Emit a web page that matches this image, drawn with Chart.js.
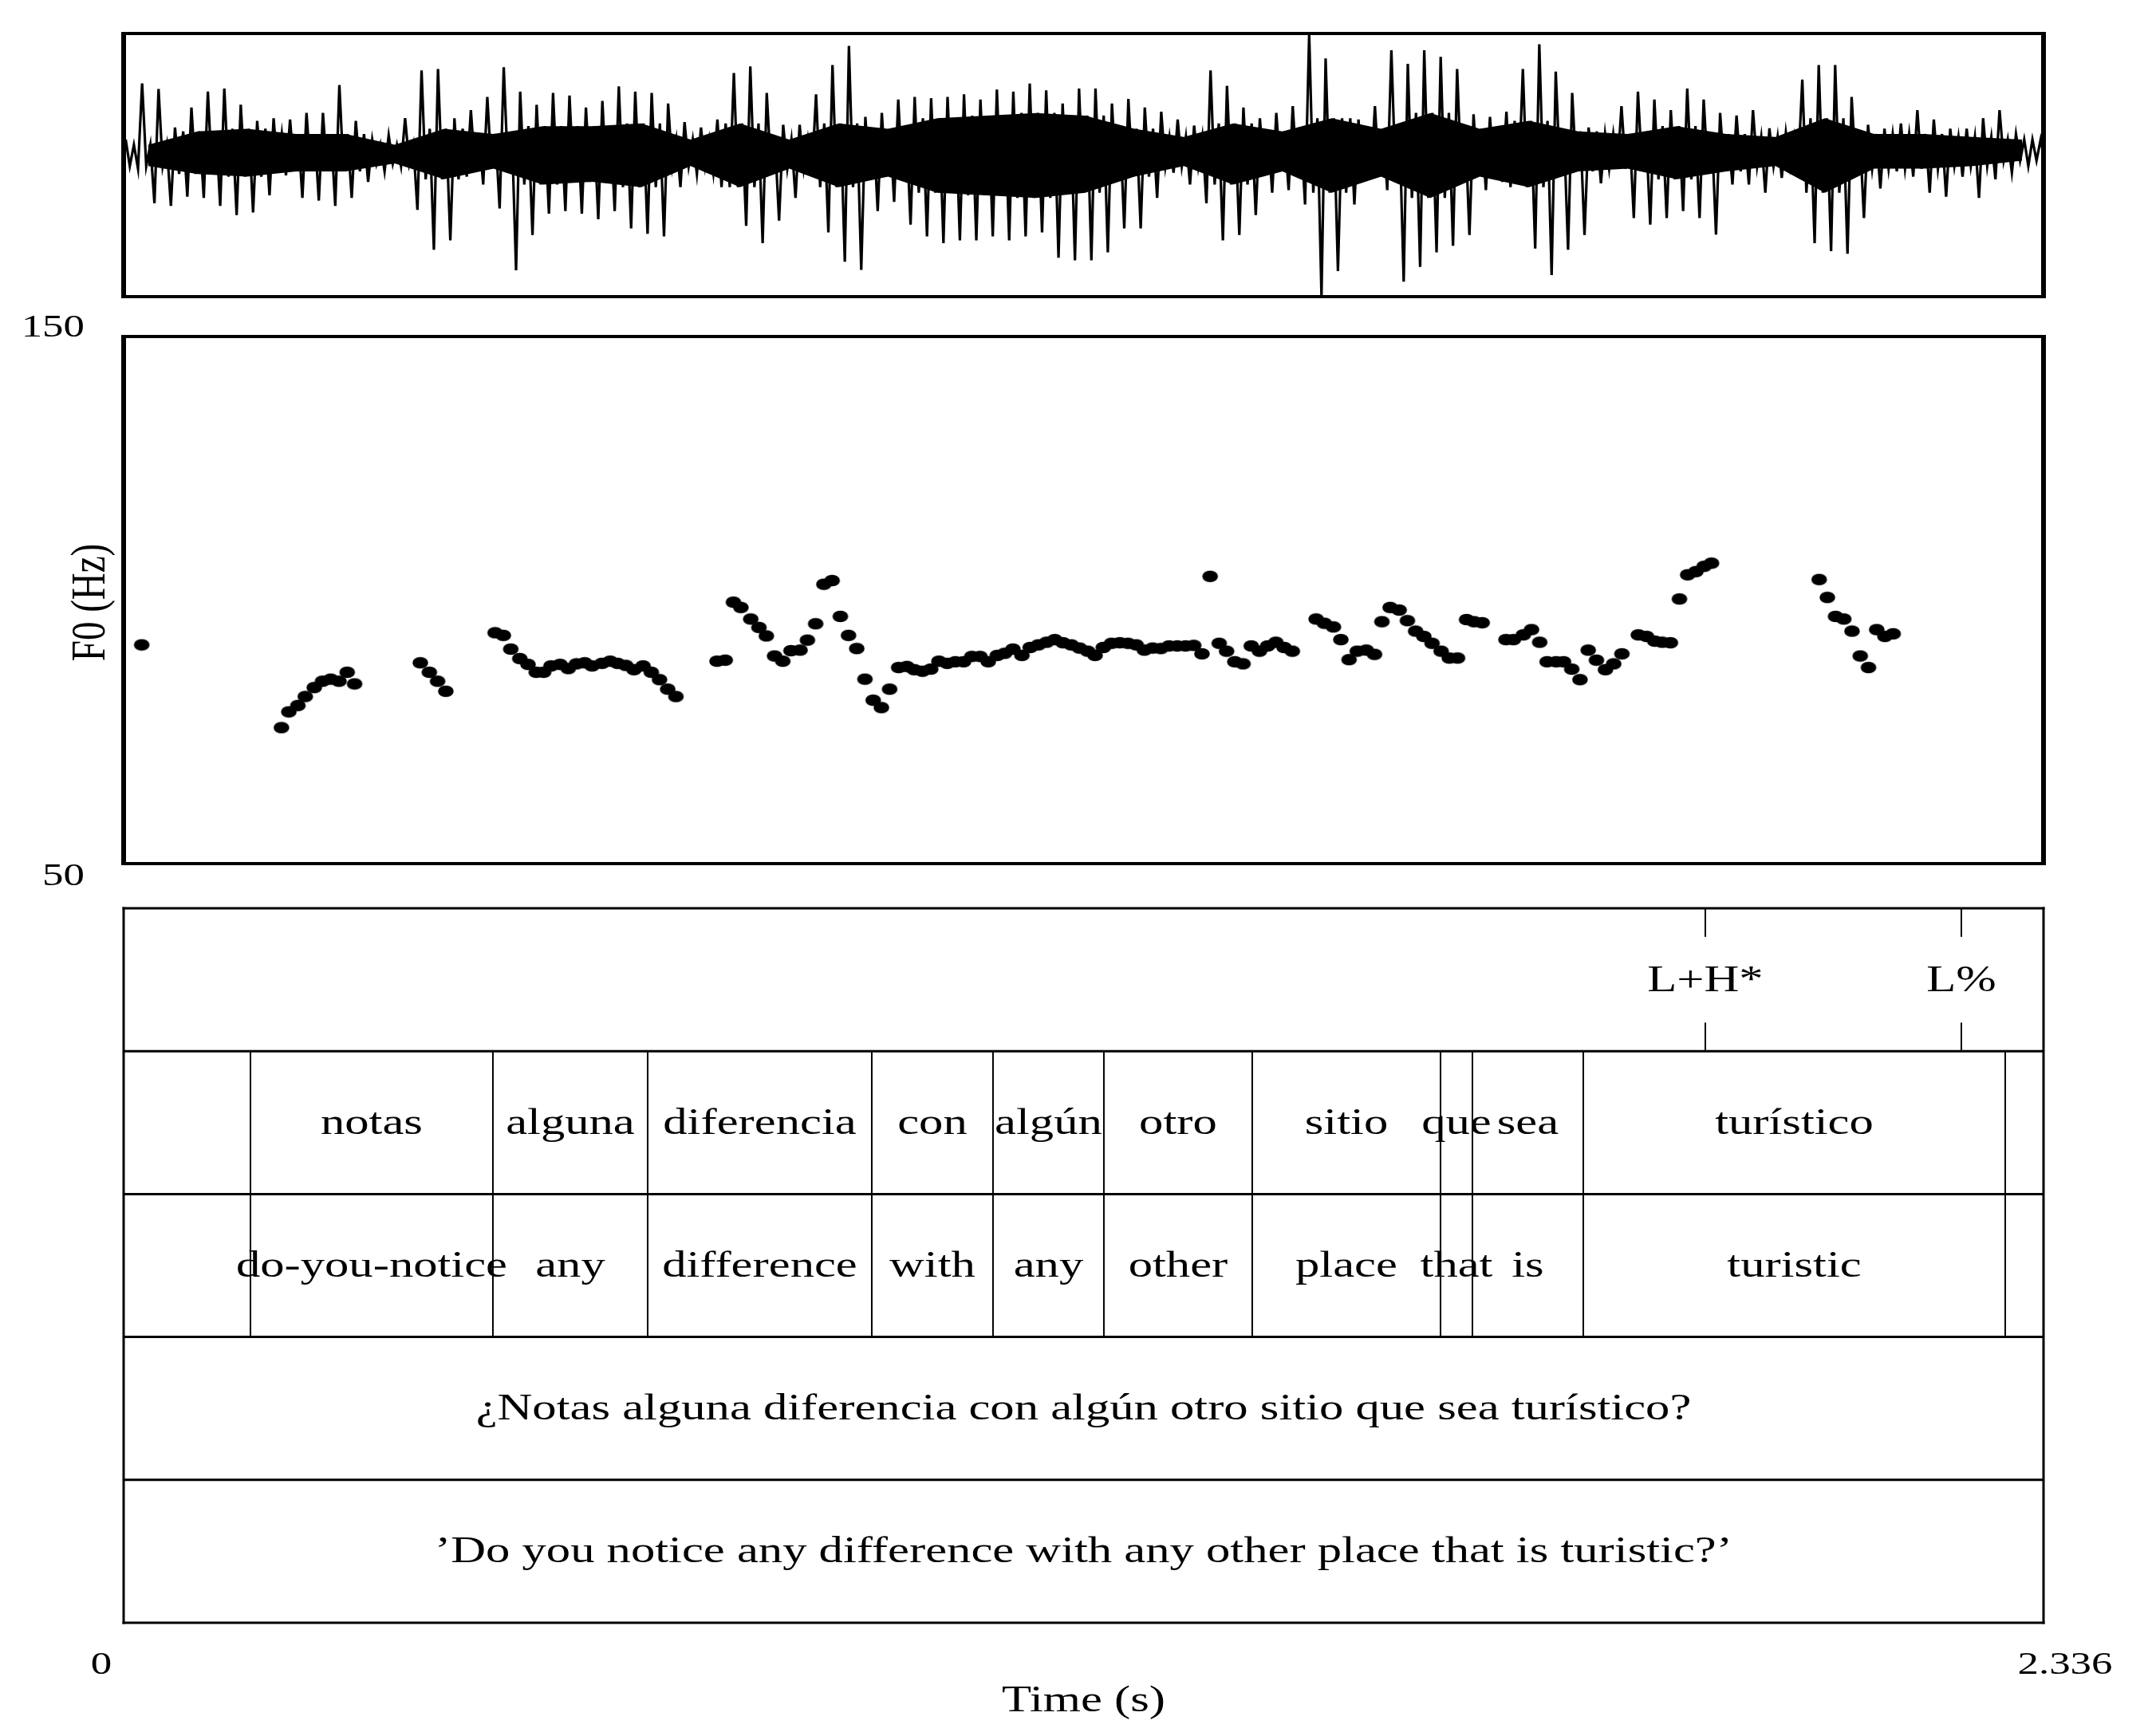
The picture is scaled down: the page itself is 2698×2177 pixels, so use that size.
<!DOCTYPE html>
<html><head><meta charset="utf-8">
<script src="https://cdn.jsdelivr.net/npm/chart.js@4.4.1/dist/chart.umd.min.js"></script>
<style>
html,body{margin:0;padding:0;background:#fff;}
#wrap{position:relative;width:2698px;height:2177px;background:#fff;overflow:hidden;}
canvas{position:absolute;left:0;top:0;}
</style></head><body>
<div id="wrap">
<canvas id="cw" width="2698" height="2177"></canvas>
<canvas id="cf" width="2698" height="2177"></canvas>
<canvas id="ct" width="2698" height="2177"></canvas>
</div>
<script>
// ---------------- data ----------------
const DURATION = 2.336;
const F0_MIN = 50, F0_MAX = 150;
const WAVE_MIN = -0.558, WAVE_MAX = 0.442;

const f0Time = [0.022,
 0.192,0.201,0.212,0.221,0.232,0.242,0.252,0.262,0.272,0.281,
 0.361,0.372,0.382,0.392,
 0.452,0.462,0.471,0.482,0.492,0.502,0.511,0.520,0.531,0.541,0.551,0.561,0.570,0.582,0.592,0.601,0.611,0.621,0.632,0.642,0.652,0.662,0.672,
 0.722,0.732,
 0.742,0.751,0.763,0.773,0.782,0.792,0.802,0.812,0.823,0.832,0.842,0.852,0.862,0.872,0.882,0.892,0.902,0.912,0.922,0.932,
 0.943,0.953,0.962,0.972,0.982,0.992,1.002,1.012,1.022,1.032,1.042,1.052,1.063,1.072,1.082,1.093,1.103,1.113,1.123,1.133,1.143,1.153,1.163,1.173,1.182,1.192,1.202,1.212,1.222,1.232,1.242,1.252,1.262,1.272,1.282,1.292,1.302,1.312,
 1.322,
 1.333,1.342,1.352,1.362,1.372,1.382,1.392,1.402,1.412,1.422,
 1.451,1.461,1.472,1.481,1.491,1.501,1.512,1.522,
 1.531,1.541,1.552,1.562,1.572,1.582,1.592,1.603,1.613,1.623,
 1.634,1.643,1.653,
 1.682,1.691,1.703,1.713,1.723,1.732,1.743,1.752,1.762,1.772,1.782,1.792,1.803,1.813,1.823,
 1.843,1.853,1.863,1.872,1.882,1.893,1.903,1.913,1.923,1.932,
 2.063,2.073,2.083,2.093,2.103,2.113,2.123,2.133,2.143,2.153];
const f0Hz = [91.5,
 75.8,78.8,80.0,81.7,83.4,84.6,85.0,84.6,86.3,84.1,
 88.1,86.3,84.6,82.7,
 93.8,93.3,90.7,88.9,87.8,86.3,86.3,87.5,87.8,87.0,87.9,88.1,87.5,88.0,88.4,88.0,87.6,86.8,87.5,86.3,84.9,83.1,81.7,
 88.4,88.6,
 99.6,98.6,96.4,94.8,93.2,89.4,88.4,90.4,90.5,92.4,95.5,103.0,103.7,96.9,93.3,90.8,85.0,81.0,79.6,83.1,
 87.2,87.4,86.8,86.5,86.9,88.4,88.0,88.3,88.3,89.3,89.3,88.3,89.5,89.9,90.7,89.5,91.0,91.5,92.0,92.5,91.9,91.5,90.9,90.3,89.5,91.0,91.8,91.9,91.8,91.5,90.5,90.9,90.8,91.3,91.3,91.3,91.4,89.8,
 104.5,
 91.8,90.3,88.3,87.9,91.3,90.3,91.3,92.0,91.0,90.3,
 96.4,95.6,94.9,92.5,88.7,90.3,90.5,89.7,
 95.9,98.6,98.1,96.1,94.1,93.1,91.8,90.3,89.0,89.0,
 96.3,95.9,95.7,
 92.5,92.5,93.4,94.4,92.0,88.3,88.3,88.3,86.9,84.9,90.5,88.6,86.8,87.9,89.8,
 93.4,93.1,92.2,92.0,91.9,100.2,104.8,105.4,106.4,107.0,
 103.9,100.5,96.9,96.4,94.1,89.4,87.2,94.4,93.1,93.6];

// waveform: positive and negative peak per 20 ms frame
const waveStep = 0.02;
const waveHi = [0.039,0.252,0.231,0.085,0.161,0.221,0.233,0.171,0.110,0.120,0.115,0.140,0.140,0.246,0.110,0.039,0.055,0.120,0.302,0.307,0.120,0.151,0.201,0.314,0.221,0.171,0.216,0.206,0.161,0.186,0.241,0.221,0.216,0.176,0.105,0.085,0.115,0.292,0.317,
 0.216,0.095,0.095,0.211,0.322,0.395,0.125,0.140,0.191,0.201,0.196,0.201,0.211,0.191,0.229,0.221,0.252,0.226,0.176,0.233,0.233,0.176,0.193,0.161,0.145,0.115,0.092,0.302,0.243,0.161,0.120,0.140,0.166,0.442,0.347,0.120,0.115,0.166,0.378,
 0.327,0.378,0.353,0.307,0.135,0.125,0.145,0.307,0.401,0.297,0.216,0.085,0.060,0.166,0.221,0.191,0.151,0.233,0.191,0.140,0.130,0.151,0.082,0.065,0.267,0.322,0.322,0.201,0.095,0.080,0.100,0.151,0.115,0.080,0.080,0.120,0.151,0.060,0.039];
const waveLo = [-0.072,-0.203,-0.213,-0.178,-0.183,-0.213,-0.248,-0.238,-0.173,-0.097,-0.183,-0.193,-0.213,-0.183,-0.122,-0.082,-0.062,-0.228,-0.380,-0.344,-0.102,-0.132,-0.223,-0.458,-0.324,-0.243,-0.233,-0.243,-0.264,-0.233,-0.299,-0.319,-0.329,-0.142,-0.092,-0.087,-0.142,-0.289,-0.355,
 -0.269,-0.183,-0.092,-0.314,-0.425,-0.456,-0.233,-0.198,-0.284,-0.329,-0.355,-0.344,-0.344,-0.329,-0.344,-0.329,-0.314,-0.410,-0.420,-0.420,-0.390,-0.299,-0.299,-0.183,-0.087,-0.132,-0.203,-0.344,-0.324,-0.248,-0.163,-0.153,-0.208,-0.558,-0.461,-0.208,-0.112,-0.153,-0.501,
 -0.445,-0.390,-0.365,-0.324,-0.153,-0.122,-0.117,-0.375,-0.476,-0.380,-0.324,-0.127,-0.072,-0.259,-0.284,-0.259,-0.233,-0.259,-0.322,-0.132,-0.132,-0.163,-0.107,-0.067,-0.355,-0.385,-0.395,-0.259,-0.147,-0.082,-0.102,-0.163,-0.178,-0.102,-0.183,-0.112,-0.087,-0.062,-0.046];
// dense core of the waveform, per 60 ms
const coreStep = 0.06;
const coreHi = [0.019,0.070,0.080,0.060,0.060,0.019,0.080,0.060,0.090,0.090,0.100,0.039,0.100,
 0.039,0.100,0.080,0.120,0.130,0.140,0.130,0.080,0.049,0.100,0.070,0.120,0.080,
 0.140,0.080,0.110,0.070,0.060,0.090,0.060,0.049,0.120,0.060,0.060,0.049,0.039];
const coreLo = [-0.062,-0.092,-0.102,-0.082,-0.082,-0.052,-0.112,-0.072,-0.132,-0.122,-0.142,-0.062,-0.142,
 -0.072,-0.142,-0.102,-0.163,-0.173,-0.183,-0.163,-0.102,-0.062,-0.132,-0.082,-0.163,-0.102,
 -0.183,-0.102,-0.142,-0.082,-0.072,-0.112,-0.082,-0.062,-0.163,-0.072,-0.072,-0.062,-0.041];

const wordBounds = [0.1543,0.4493,0.6376,0.9103,1.0578,1.1927,1.3732,1.6023,1.6411,1.7760,2.2894];
const words  = ["","notas","alguna","diferencia","con","algún","otro","sitio","que","sea","turístico",""];
const glosses = ["","do-you-notice","any","difference","with","any","other","place","that","is","turistic",""];
const toneTimes = [1.9245, 2.2360];
const toneLabels = ["L+H*", "L%"];
const sentence = "¿Notas alguna diferencia con algún otro sitio que sea turístico?";
const translation = "’Do you notice any difference with any other place that is turistic?’";
const yTicks = [150, 50];
const xTickLabels = ["0", "2.336"];
const xTitle = "Time (s)";
const yTitle = "F0 (Hz)";

// ---------------- helpers ----------------
const W = 2698, H = 2177;
const BOX_L = 155, BOX_R = 2562;
const SX = 1.29;
const FS = 47, FS_TICK = 41;
const FONT = '"Liberation Serif","Times New Roman",serif';
function txt(ctx, s, x, y, size, align, rot) {
  ctx.save();
  ctx.translate(x, y);
  ctx.scale(SX, 1);
  if (rot) ctx.rotate(rot);
  ctx.font = size + 'px ' + FONT;
  ctx.fillStyle = '#000';
  ctx.textAlign = align || 'center';
  ctx.textBaseline = 'alphabetic';
  ctx.fillText(s, 0, 0);
  ctx.restore();
}
function line(ctx, x1, y1, x2, y2, w) {
  ctx.save();
  ctx.strokeStyle = '#000';
  ctx.lineWidth = w;
  ctx.lineCap = 'butt';
  ctx.beginPath(); ctx.moveTo(x1, y1); ctx.lineTo(x2, y2); ctx.stroke();
  ctx.restore();
}
function frame(ctx, a, hw, vw) {
  line(ctx, a.left - vw/2, a.top, a.right + vw/2, a.top, hw);
  line(ctx, a.left - vw/2, a.bottom, a.right + vw/2, a.bottom, hw);
  line(ctx, a.left, a.top - hw/2, a.left, a.bottom + hw/2, vw);
  line(ctx, a.right, a.top - hw/2, a.right, a.bottom + hw/2, vw);
}
function pad(top, bottom) {
  return {left: BOX_L, right: W - BOX_R, top: top, bottom: H - bottom};
}
const common = {responsive:false, animation:false, devicePixelRatio:1,
  plugins:{legend:{display:false}, tooltip:{enabled:false}}, events:[]};

// ---------------- waveform ----------------
// each 20 ms frame: positive peak, core trough, core crest, negative peak
const wavePts = [];
for (let i = 0; i < waveHi.length; i++) {
  const s = Math.min(coreHi.length - 1, Math.floor(i * waveStep / coreStep + 1e-9));
  const t0 = i * waveStep;
  wavePts.push({x: t0 + waveStep*0.125, y: waveHi[i]});
  wavePts.push({x: t0 + waveStep*0.375, y: coreLo[s]});
  wavePts.push({x: t0 + waveStep*0.625, y: coreHi[s]});
  wavePts.push({x: t0 + waveStep*0.875, y: waveLo[i]});
}
const bandHi = coreHi.map((v,i)=>({x:(i+0.5)*coreStep, y:v}));
const bandLo = coreLo.map((v,i)=>({x:(i+0.5)*coreStep, y:v}));
new Chart(document.getElementById('cw'), {
  type: 'line',
  data: {datasets: [
    {data: wavePts, borderColor:'#000', backgroundColor:'#000', borderWidth:3.2, pointRadius:0, tension:0, fill:false, order:0},
    {data: bandHi, borderColor:'#000', backgroundColor:'#000', borderWidth:0, pointRadius:0, tension:0, fill:'+1', order:1},
    {data: bandLo, borderColor:'#000', backgroundColor:'#000', borderWidth:0, pointRadius:0, tension:0, fill:false, order:2}
  ]},
  options: Object.assign({}, common, {
    layout: {padding: pad(42, 372)},
    scales: {
      x: {type:'linear', min:0, max:DURATION, display:false},
      y: {type:'linear', min:WAVE_MIN, max:WAVE_MAX, display:false}
    }
  }),
  plugins: [{id:'wframe', afterDraw(c){ frame(c.ctx, c.chartArea, 4, 6); }}]
});

// ---------------- F0 ----------------
const dot = document.createElement('canvas');
dot.width = 22; dot.height = 16;
(function(){ const g = dot.getContext('2d'); g.fillStyle = '#000'; g.beginPath(); g.ellipse(11, 8, 9.8, 7.3, 0, 0, Math.PI*2); g.fill(); })();

new Chart(document.getElementById('cf'), {
  type: 'scatter',
  data: {datasets: [{data: f0Time.map((t,i)=>({x:t, y:f0Hz[i]})), pointStyle: dot, pointRadius: 10,
    backgroundColor:'#000', borderColor:'#000'}]},
  options: Object.assign({}, common, {
    layout: {padding: pad(422, 1083)},
    scales: {
      x: {type:'linear', min:0, max:DURATION, display:false},
      y: {type:'linear', min:F0_MIN, max:F0_MAX, display:false}
    }
  }),
  plugins: [{id:'fframe', afterDraw(c){
    const ctx = c.ctx, a = c.chartArea, ys = c.scales.y;
    frame(ctx, a, 4, 6);
    txt(ctx, String(yTicks[0]), a.left - 49, ys.getPixelForValue(yTicks[0]), FS_TICK, 'right');
    txt(ctx, String(yTicks[1]), a.left - 49, ys.getPixelForValue(yTicks[1]) + 27, FS_TICK, 'right');
    txt(ctx, yTitle, 131, (a.top + a.bottom)/2 + 3, FS, 'center', -Math.PI/2);
  }}]
});

// ---------------- tiers ----------------
new Chart(document.getElementById('ct'), {
  type: 'scatter',
  data: {datasets: [{data: []}]},
  options: Object.assign({}, common, {
    layout: {padding: pad(1139, 2035)},
    scales: {
      x: {type:'linear', min:0, max:DURATION, display:false},
      y: {type:'linear', min:0, max:5, reverse:true, display:false}
    }
  }),
  plugins: [{id:'tiers', afterDraw(c){
    const ctx = c.ctx, a = c.chartArea, xs = c.scales.x, ys = c.scales.y;
    const top = i => ys.getPixelForValue(i);
    const mid = i => (top(i) + top(i+1))/2;
    for (let i = 1; i < 5; i++) line(ctx, a.left, top(i), a.right, top(i), 3);
    frame(ctx, a, 3, 3);
    // tone tier
    const th = top(1) - top(0);
    toneTimes.forEach((t, k) => {
      const x = xs.getPixelForValue(t);
      line(ctx, x, top(0), x, top(0) + th*0.2, 2);
      line(ctx, x, top(1) - th*0.2, x, top(1), 2);
      txt(ctx, toneLabels[k], x, mid(0) + 14, FS, 'center');
    });
    // word + gloss tiers
    const edges = [0].concat(wordBounds, [DURATION]);
    [1, 2].forEach(tier => {
      wordBounds.forEach(t => { const x = xs.getPixelForValue(t); line(ctx, x, top(tier), x, top(tier+1), 2); });
      const labs = tier === 1 ? words : glosses;
      for (let k = 0; k < labs.length; k++) {
        if (!labs[k]) continue;
        const x = (xs.getPixelForValue(edges[k]) + xs.getPixelForValue(edges[k+1]))/2;
        txt(ctx, labs[k], x, mid(tier) + 14, FS, 'center');
      }
    });
    const cx = (a.left + a.right)/2;
    txt(ctx, sentence, cx, mid(3) + 14, FS, 'center');
    txt(ctx, translation, cx, mid(4) + 14, FS, 'center');
    // time axis
    txt(ctx, xTickLabels[0], xs.getPixelForValue(0) - 28, a.bottom + 64, FS_TICK, 'center');
    txt(ctx, xTickLabels[1], xs.getPixelForValue(DURATION) + 27, a.bottom + 64, FS_TICK, 'center');
    txt(ctx, xTitle, cx, a.bottom + 111, FS, 'center');
  }}]
});
</script>
</body></html>
